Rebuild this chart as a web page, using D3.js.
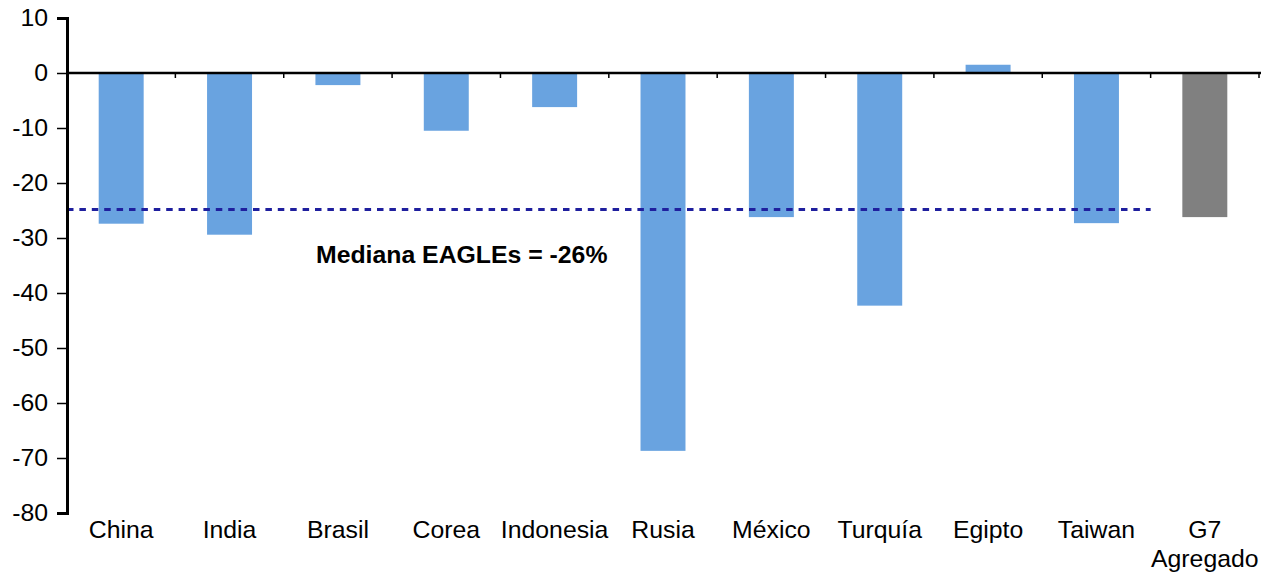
<!DOCTYPE html>
<html>
<head>
<meta charset="utf-8">
<script src="https://cdn.jsdelivr.net/npm/d3@7"></script>
<style>
  html, body { margin: 0; padding: 0; background: #fff; }
  svg { display: block; font-family: "Liberation Sans", Arial, sans-serif; }
</style>
</head>
<body>
<svg id="chart" width="1265" height="575"></svg>
<script>
const categories = ["China", "India", "Brasil", "Corea", "Indonesia", "Rusia", "México", "Turquía", "Egipto", "Taiwan", "G7|Agregado"];
const values = [-27.4, -29.4, -2.2, -10.5, -6.2, -68.7, -26.2, -42.3, 1.5, -27.3, -26.2];
const barGroups = ["EAGLE", "EAGLE", "EAGLE", "EAGLE", "EAGLE", "EAGLE", "EAGLE", "EAGLE", "EAGLE", "EAGLE", "G7"];
const yTicks = [10, 0, -10, -20, -30, -40, -50, -60, -70, -80];
const medianValue = -24.8;
const medianLabel = "Mediana EAGLEs = -26%";
const groupColors = { EAGLE: "#69a3e0", G7: "#808080" };

(function () {
const svg = d3.select("#chart");
const mLeft = 67, mRight = 1259, mTop = 18, mBottom = 513;
const fs = 24.8;

const x = d3.scaleBand().domain(categories).range([mLeft, mRight]).paddingInner(0.585).paddingOuter(0.2925);
const y = d3.scaleLinear().domain([-80, 10]).range([mBottom, mTop]);

// bars
svg.append("g").selectAll("rect").data(categories).join("rect")
  .attr("x", d => x(d))
  .attr("width", x.bandwidth())
  .attr("y", (d, i) => y(Math.max(0, values[i])))
  .attr("height", (d, i) => Math.abs(y(values[i]) - y(0)))
  .attr("fill", (d, i) => groupColors[barGroups[i]]);

// median dashed line (ends at boundary between Taiwan and G7)
const step = x.step();
svg.append("line")
  .attr("x1", mLeft).attr("x2", mLeft + step * (categories.length - 1))
  .attr("y1", y(medianValue)).attr("y2", y(medianValue))
  .attr("stroke", "#1f1f9e").attr("stroke-width", 3)
  .attr("stroke-dasharray", "6.5,5.9");

svg.append("text")
  .attr("x", 316).attr("y", y(-34.5))
  .attr("font-size", fs).attr("font-weight", "bold").attr("fill", "#000")
  .text(medianLabel);

// y axis
const yAxis = d3.axisLeft(y).tickValues(yTicks).tickSize(10).tickPadding(9).tickFormat(d => String(d));
const gy = svg.append("g").attr("transform", `translate(${mLeft},0)`).call(yAxis);
gy.select(".domain").attr("stroke", "#000").attr("stroke-width", 3);
gy.selectAll(".tick line").attr("stroke", "#000").attr("stroke-width", 1.5);
gy.selectAll(".tick text").attr("font-size", fs).attr("fill", "#000").attr("font-family", "Liberation Sans, Arial, sans-serif");

// zero axis with category boundary ticks
svg.append("line")
  .attr("x1", mLeft).attr("x2", mRight + 2)
  .attr("y1", y(0)).attr("y2", y(0))
  .attr("stroke", "#000").attr("stroke-width", 2.5);
const boundaries = d3.range(1, categories.length + 1).map(i => mLeft + i * step);
svg.append("g").selectAll("line").data(boundaries).join("line")
  .attr("x1", d => d).attr("x2", d => d)
  .attr("y1", y(0)).attr("y2", y(0) + 5)
  .attr("stroke", "#000").attr("stroke-width", 1.5);

// category labels
const lab = svg.append("g").selectAll("text").data(categories).join("text")
  .attr("text-anchor", "middle")
  .attr("font-size", fs).attr("fill", "#000")
  .attr("x", d => x(d) + x.bandwidth() / 2)
  .attr("y", 538);
lab.each(function(d) {
  const parts = d.split("|");
  const t = d3.select(this);
  parts.forEach((p, i) => {
    t.append("tspan").attr("x", x(d) + x.bandwidth() / 2).attr("dy", i === 0 ? 0 : 29).text(p);
  });
});
})();
</script>
</body>
</html>
